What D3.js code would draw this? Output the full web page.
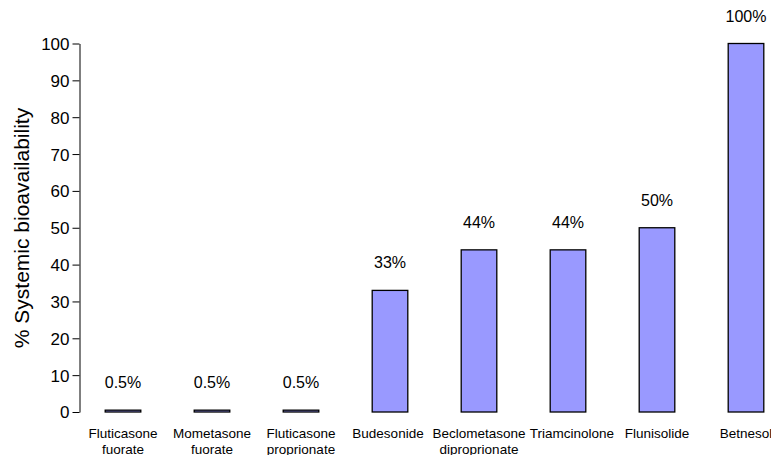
<!DOCTYPE html>
<html>
<head>
<meta charset="utf-8">
<script src="https://cdn.jsdelivr.net/npm/d3@7"></script>
<style>
  body { margin: 0; background: #fff; }
  svg { display: block; }
  svg text { font-family: Arial, "Liberation Sans", sans-serif; fill: #000; }
</style>
</head>
<body>
<div id="vis-container"></div>
<script>
// drug names, split into lines as in the original
const drugs = [
  ['Fluticasone', 'fuorate'],
  ['Mometasone', 'fuorate'],
  ['Fluticasone', 'proprionate'],
  ['Budesonide'],
  ['Beclometasone', 'diproprionate'],
  ['Triamcinolone'],
  ['Flunisolide'],
  ['Betnesol']
]
const bioavailability = [0.5, 0.5, 0.5, 33, 44, 44, 50, 100]
const valueLabels = ['0.5%', '0.5%', '0.5%', '33%', '44%', '44%', '50%', '100%']
const yTicks = [0, 10, 20, 30, 40, 50, 60, 70, 80, 90, 100]

// small sideways nudges so neighbouring labels don't touch
const labelNudge = [0, 0, 0, -2, 0, 4, 0, 0]

const width = 771, height = 455

const svg = d3.select('#vis-container')
  .append('svg')
  .attr('width', width)
  .attr('height', height)

const x = d3.scaleBand()
  .domain(d3.range(drugs.length))
  .range([78.5, 790.5])
  .paddingInner(0.6)
  .paddingOuter(0.3)

const y = d3.scaleLinear()
  .domain([0, 100])
  .range([412, 43.5])

// y axis
const yAxis = svg.append('g')
  .attr('transform', 'translate(79.5,0)')
  .call(d3.axisLeft(y).tickValues(yTicks).tickSize(7).tickPadding(3).tickSizeOuter(0))
yAxis.attr('font-family', null)
yAxis.select('.domain').attr('stroke', '#000')
yAxis.selectAll('line').attr('stroke', '#000')
yAxis.selectAll('text')
  .style('font-size', '17px')
  .attr('dy', '0.35em')

svg.append('text')
  .attr('transform', 'translate(29,228) rotate(-90)')
  .attr('text-anchor', 'middle')
  .style('font-size', '21px')
  .text('% Systemic bioavailability')

// bars
svg.selectAll('rect.bar')
  .data(bioavailability)
  .join('rect')
  .attr('class', 'bar')
  .attr('x', (d, i) => x(i))
  .attr('y', d => y(d))
  .attr('width', x.bandwidth())
  .attr('height', d => y(0) - y(d))
  .attr('fill', '#9999ff')
  .attr('stroke', '#000')
  .attr('stroke-width', 1.3)

// value labels above bars
svg.selectAll('text.value')
  .data(bioavailability)
  .join('text')
  .attr('class', 'value')
  .attr('x', (d, i) => x(i) + x.bandwidth() / 2)
  .attr('y', d => y(d) - 22)
  .attr('text-anchor', 'middle')
  .style('font-size', '16px')
  .text((d, i) => valueLabels[i])

// category labels
const cats = svg.selectAll('text.cat')
  .data(drugs)
  .join('text')
  .attr('class', 'cat')
  .attr('text-anchor', 'middle')
  .style('font-size', '13.5px')

cats.each(function(lines, i) {
  const t = d3.select(this)
  lines.forEach(function(line, j) {
    t.append('tspan')
      .attr('x', x(i) + x.bandwidth() / 2 + labelNudge[i])
      .attr('y', 437.5 + j * 16)
      .text(line)
  })
})
</script>
</body>
</html>
